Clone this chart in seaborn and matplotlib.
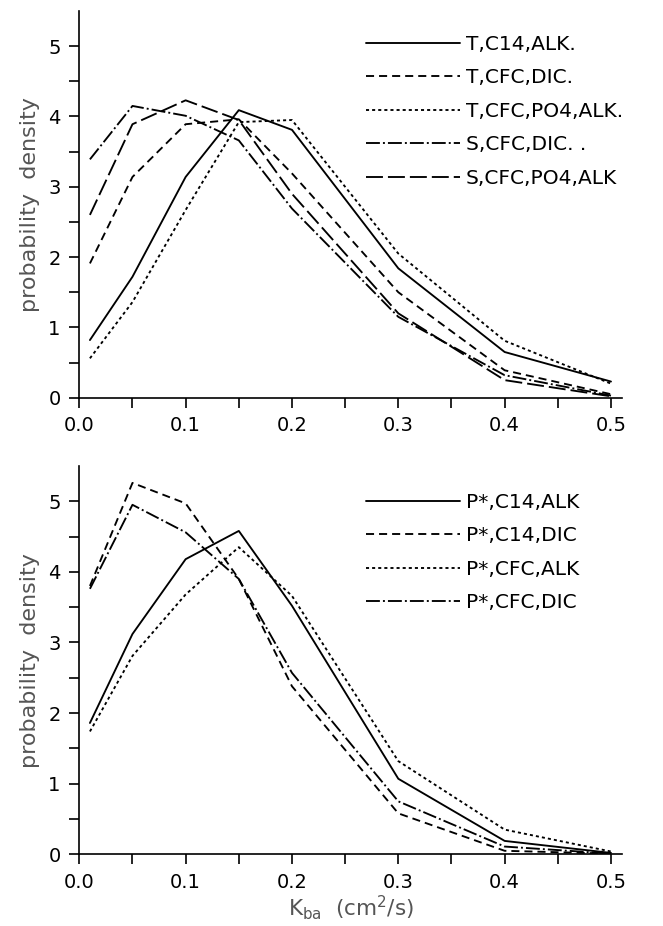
import pandas as pd
import matplotlib
matplotlib.use("Agg")
import matplotlib.pyplot as plt
import seaborn as sns

# Kba grid (cm2/s)
kba = [0.01, 0.05, 0.1, 0.15, 0.2, 0.3, 0.4, 0.5]

# top panel
top_labels = ['T,C14,ALK.', 'T,CFC,DIC.', 'T,CFC,PO4,ALK.', 'S,CFC,DIC. .', 'S,CFC,PO4,ALK']
t_c14_alk = [0.82, 1.72, 3.14, 4.09, 3.81, 1.84, 0.65, 0.23]
t_cfc_dic = [1.91, 3.14, 3.89, 3.96, 3.19, 1.50, 0.39, 0.05]
t_cfc_po4_alk = [0.56, 1.36, 2.67, 3.92, 3.95, 2.05, 0.81, 0.20]
s_cfc_dic = [3.39, 4.15, 4.01, 3.66, 2.69, 1.15, 0.32, 0.03]
s_cfc_po4_alk = [2.60, 3.89, 4.23, 3.95, 2.90, 1.20, 0.25, 0.02]

# bottom panel
bot_labels = ['P*,C14,ALK', 'P*,C14,DIC', 'P*,CFC,ALK', 'P*,CFC,DIC']
p_c14_alk = [1.86, 3.12, 4.18, 4.58, 3.52, 1.07, 0.19, 0.02]
p_c14_dic = [3.80, 5.26, 4.97, 3.90, 2.38, 0.58, 0.05, 0.01]
p_cfc_alk = [1.74, 2.81, 3.68, 4.35, 3.66, 1.32, 0.35, 0.04]
p_cfc_dic = [3.76, 4.95, 4.56, 3.90, 2.57, 0.75, 0.11, 0.01]

sns.set_style('ticks')
plt.rcParams['font.family'] = ['DejaVu Sans']
plt.rcParams['lines.scale_dashes'] = False
plt.rcParams['text.color'] = 'black'

solid = ''
dashed = (5.8, 3.6)
dotted = (2.2, 2.2)
dashdot = (10, 2.2, 1.4, 2.2)
longdash = (12.2, 3.6)


def make_long(labels, series):
    rows = []
    for lab, vals in zip(labels, series):
        for x, y in zip(kba, vals):
            rows.append({'Kba': x, 'density': y, 'case': lab})
    return pd.DataFrame(rows)


def draw_panel(ax, df, labels, dash_list, legend_top):
    sns.lineplot(data=df, x='Kba', y='density', style='case', style_order=labels,
                 dashes=dict(zip(labels, dash_list)), color='black', linewidth=1.35,
                 errorbar=None, sort=False, legend=False, ax=ax)
    ax.set_xlim(0, 0.51)
    ax.set_ylim(0, 5.5)
    ax.set_xticks([0, 0.1, 0.2, 0.3, 0.4, 0.5])
    ax.set_xticklabels(['0.0', '0.1', '0.2', '0.3', '0.4', '0.5'])
    ax.set_xticks([0.05, 0.15, 0.25, 0.35, 0.45], minor=True)
    ax.set_yticks([0, 1, 2, 3, 4, 5])
    ax.set_yticks([0.5, 1.5, 2.5, 3.5, 4.5], minor=True)
    ax.tick_params(which='both', direction='out', length=7.5, width=1.2,
                   labelsize=14, color='black', labelcolor='black')
    ax.tick_params(axis='x', pad=6)
    ax.tick_params(axis='y', pad=6)
    for s in ['left', 'bottom']:
        ax.spines[s].set_linewidth(1.2)
        ax.spines[s].set_color('black')
    sns.despine(ax=ax)
    ax.set_ylabel('probability  density', fontsize=16, color='#555555', labelpad=6)
    ax.set_xlabel('')
    ax.legend(ax.lines, labels, loc='upper left', bbox_to_anchor=(0.529, legend_top),
              frameon=False, fontsize=14.5, handlelength=4.65, handletextpad=0.3,
              labelspacing=0.72, borderpad=0, borderaxespad=0)


fig = plt.figure(figsize=(6.63, 9.26), dpi=100)
ax1 = fig.add_axes([0.1196, 0.5705, 0.8180, 0.4176])
ax2 = fig.add_axes([0.1196, 0.0774, 0.8180, 0.4194])

draw_panel(ax1, make_long(top_labels, [t_c14_alk, t_cfc_dic, t_cfc_po4_alk, s_cfc_dic, s_cfc_po4_alk]),
           top_labels, [solid, dashed, dotted, dashdot, longdash], 0.938)
draw_panel(ax2, make_long(bot_labels, [p_c14_alk, p_c14_dic, p_cfc_alk, p_cfc_dic]),
           bot_labels, [solid, dashed, dotted, dashdot], 0.931)

ax2.set_xlabel(r'K$_{\mathrm{ba}}$  (cm$^2$/s)', fontsize=15.5, color='#555555', labelpad=1)

fig.savefig('out.png', dpi=100)
